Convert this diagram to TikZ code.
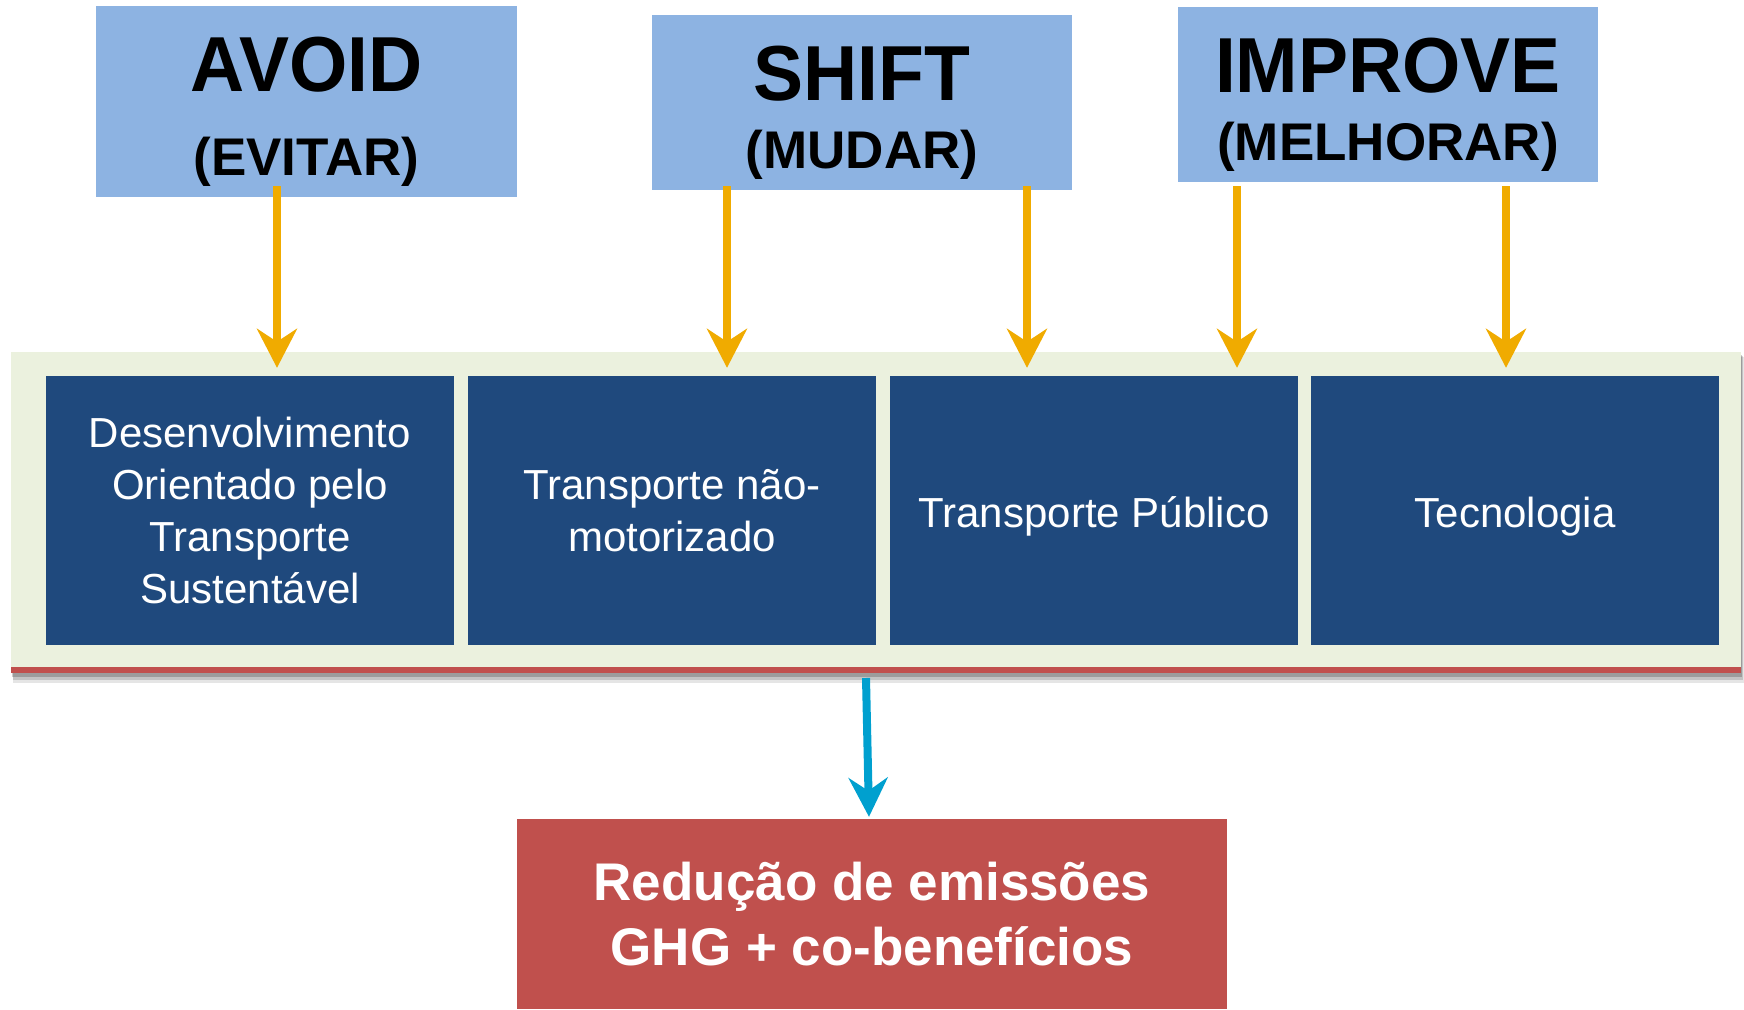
\documentclass[tikz,border=0pt]{standalone}
\usepackage{fontspec}
\setmainfont{Liberation Sans}
\usetikzlibrary{arrows.meta,calc}
\definecolor{hdrblue}{HTML}{8DB3E2}
\definecolor{boxblue}{HTML}{1F497D}
\definecolor{panelgreen}{HTML}{EBF1DE}
\definecolor{accred}{HTML}{C0504D}
\definecolor{gold}{HTML}{F0AB00}
\definecolor{cyanarr}{HTML}{00A0CF}
\begin{document}
\begin{tikzpicture}[x=1pt,y=-1pt,
  hdr/.style={fill=hdrblue, draw=none, inner sep=0pt},
  hdrbig/.style={font=\fontsize{75}{80}\selectfont\bfseries, inner sep=0pt, anchor=base, yscale=1.04},
  hdrsub/.style={font=\fontsize{53}{60}\selectfont\bfseries, inner sep=0pt, anchor=base},
  topic/.style={fill=boxblue, text=white, minimum width=408pt, minimum height=269pt,
    inner sep=0pt, align=center, font=\fontsize{42}{51.7}\selectfont},
  oneline/.style={text height=33pt, text depth=0pt},
  panel/.style={fill=panelgreen, draw=none, minimum width=1730pt, minimum height=315pt, inner sep=0pt},
  result/.style={fill=accred, text=white, minimum width=710pt, minimum height=190pt,
    inner sep=0pt, align=center, font=\fontsize{53}{65}\selectfont\bfseries},
  oarrow/.style={draw=gold, line width=8pt, -{Stealth[length=39pt,width=40pt,inset=13pt]}},
  carrow/.style={draw=cyanarr, line width=8pt, -{Stealth[length=39pt,width=39pt,inset=13pt]}}
]
\useasboundingbox (0,0) rectangle (1744,1009);

% header boxes
\node[hdr, minimum width=421pt, minimum height=191pt] (avoid) at (306.5,101.5) {};
\node[hdr, minimum width=420pt, minimum height=175pt] (shift) at (862,102.5) {};
\node[hdr, minimum width=420pt, minimum height=175pt] (improve) at (1388,94.5) {};
\node[hdrbig] (avoidT) at (306.5,91) {AVOID};
\node[hdrsub] (avoidS) at (306.5,175) {(EVITAR)};
\node[hdrbig] (shiftT) at (862,100) {SHIFT};
\node[hdrsub] (shiftS) at (862,168) {(MUDAR)};
\node[hdrbig] (improveT) at (1388,92) {IMPROVE};
\node[hdrsub] (improveS) at (1388,160) {(MELHORAR)};

% panel with soft shadow
\fill[black, opacity=0.10] (13,357) rectangle (1744,683);
\fill[black, opacity=0.15] (13,356) rectangle (1743,680);
\fill[black, opacity=0.20] (12,355) rectangle (1742,677);
\node[panel] (panel) at (876,509.5) {};
\fill[accred] (panel.south west) rectangle ($(panel.south east)+(0,6)$);

% topic boxes
\node[topic] (d1) at (250,510.5) {Desenvolvimento\\Orientado pelo\\Transporte\\Sustentável};
\node[topic] (d2) at (672,510.5) {Transporte não-\\motorizado};
\node[topic, oneline] (d3) at (1094,510.5) {Transporte Público};
\node[topic, oneline] (d4) at (1515,510.5) {Tecnologia};

% result box
\node[result] (result) at (872,914) {Redução de emissões\\GHG + co-benefícios};

% orange arrows
\coordinate (s1) at (277,186);
\coordinate (s2) at (727,186);
\coordinate (s3) at (1027,186);
\coordinate (s4) at (1237,186);
\coordinate (s5) at (1506,186);
\draw[oarrow, shorten >=8pt] (s1) -- (d1.north -| s1);
\draw[oarrow, shorten >=8pt] (s2) -- (d2.north -| s2);
\draw[oarrow, shorten >=8pt] (s3) -- (d3.north -| s3);
\draw[oarrow, shorten >=8pt] (s4) -- (d3.north -| s4);
\draw[oarrow, shorten >=8pt] (s5) -- (d4.north -| s5);

% blue arrow
\coordinate (b0) at (866,678);
\draw[carrow] (b0) -- ($(result.north)+(-3,-2)$);
\end{tikzpicture}
\end{document}
